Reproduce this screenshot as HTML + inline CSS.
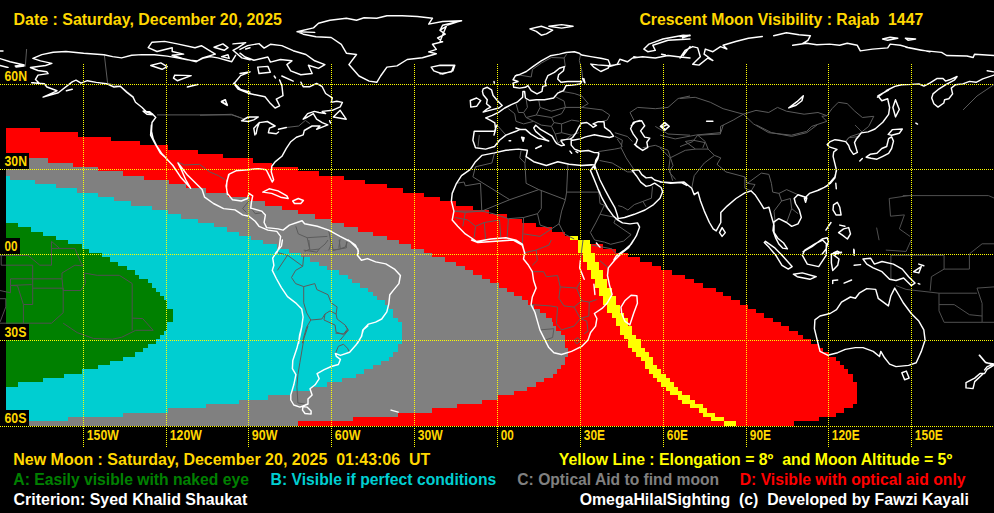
<!DOCTYPE html>
<html><head><meta charset="utf-8"><title>Crescent Moon Visibility</title>
<style>
html,body{margin:0;padding:0;background:#000;}
body{width:994px;height:513px;overflow:hidden;font-family:"Liberation Sans",sans-serif;}
svg{display:block;position:absolute;left:0;top:0;}
text{font-family:"Liberation Sans",sans-serif;font-weight:bold;white-space:pre;}
.z path{shape-rendering:crispEdges;}
.g line{stroke:#FFFF00;stroke-width:1;stroke-dasharray:1 1;shape-rendering:crispEdges;}
.c{fill:none;stroke:#fff;stroke-width:1.45;stroke-linejoin:round;stroke-linecap:round;}
.b{fill:none;stroke:#5c5c5c;stroke-width:1;stroke-linejoin:round;}
.d{fill:none;stroke:#505050;stroke-width:1;stroke-linejoin:round;}
.l text{font-size:14.2px;fill:#FFD700;}
.t text{font-size:16px;}
</style></head>
<body>
<svg width="994" height="513" viewBox="0 0 994 513">
<rect width="994" height="513" fill="#000"/>
<g class="z">
<path fill="#FF0000" d="M6 128H40V132H6ZM6 132H78V137H6ZM6 137H111V141H6ZM6 141H140V145H6ZM6 145H168V150H6ZM6 150H198V154H6ZM6 154H223V158H6ZM6 158H253V163H6ZM6 163H272V167H6ZM6 167H298V171H6ZM6 171H319V176H6ZM6 176H344V180H6ZM6 180H365V184H6ZM6 184H387V188H6ZM6 188H403V193H6ZM6 193H424V197H6ZM6 197H440V201H6ZM6 201H456V206H6ZM6 206H473V210H6ZM6 210H489V214H6ZM6 214H507V219H6ZM6 219H522V223H6ZM6 223H536V227H6ZM6 227H552V232H6ZM6 232H565V236H6ZM6 236H578V240H6ZM6 240H590V244H6ZM6 244H603V249H6ZM6 249H616V253H6ZM6 253H628V257H6ZM6 257H640V262H6ZM6 262H652V266H6ZM6 266H661V270H6ZM6 270H672V275H6ZM6 275H685V279H6ZM6 279H694V283H6ZM6 283H703V288H6ZM6 288H716V292H6ZM6 292H723V296H6ZM6 296H731V300H6ZM6 300H740V305H6ZM6 305H748V309H6ZM6 309H756V313H6ZM6 313H764V318H6ZM6 318H773V322H6ZM6 322H781V326H6ZM6 326H789V331H6ZM6 331H798V335H6ZM6 335H803V339H6ZM6 339H811V344H6ZM6 344H819V348H6ZM6 348H823V352H6ZM6 352H829V357H6ZM6 357H836V361H6ZM6 361H840V365H6ZM6 365H844V369H6ZM6 369H848V374H6ZM6 374H853V378H6ZM6 378H853V382H6ZM6 382H857V387H6ZM6 387H857V391H6ZM6 391H857V395H6ZM6 395H857V400H6ZM6 400H857V404H6ZM6 404H853V408H6ZM6 408H844V413H6ZM6 413H836V417H6ZM6 417H819V421H6ZM6 421H794V426H6Z"/>
<path fill="#808080" d="M6 158H48V163H6ZM6 163H73V167H6ZM6 167H98V171H6ZM6 171H123V176H6ZM6 176H144V180H6ZM6 180H169V184H6ZM6 184H186V188H6ZM6 188H206V193H6ZM6 193H228V197H6ZM6 197H250V201H6ZM6 201H265V206H6ZM6 206H282V210H6ZM6 210H298V214H6ZM6 214H315V219H6ZM6 219H331V223H6ZM6 223H344V227H6ZM6 227H358V232H6ZM6 232H373V236H6ZM6 236H387V240H6ZM6 240H399V244H6ZM6 244H411V249H6ZM6 249H424V253H6ZM6 253H432V257H6ZM6 257H445V262H6ZM6 262H456V266H6ZM6 266H465V270H6ZM6 270H473V275H6ZM6 275H482V279H6ZM6 279H490V283H6ZM6 283H499V288H6ZM6 288H507V292H6ZM6 292H514V296H6ZM6 296H522V300H6ZM6 300H528V305H6ZM6 305H534V309H6ZM6 309H540V313H6ZM6 313H546V318H6ZM6 318H552V322H6ZM6 322H553V326H6ZM6 326H556V331H6ZM6 331H561V335H6ZM6 335H565V339H6ZM6 339H565V344H6ZM6 344H565V348H6ZM6 348H568V352H6ZM6 352H568V357H6ZM6 357H565V361H6ZM6 361H565V365H6ZM6 365H561V369H6ZM6 369H557V374H6ZM6 374H553V378H6ZM6 378H544V382H6ZM6 382H536V387H6ZM6 387H527V391H6ZM6 391H514V395H6ZM6 395H498V400H6ZM6 400H482V404H6ZM6 404H457V408H6ZM6 408H432V413H6ZM6 413H398V417H6ZM6 417H353V421H6ZM6 421H298V426H6Z"/>
<path fill="#00CED1" d="M6 176H10V180H6ZM6 180H35V184H6ZM6 184H56V188H6ZM6 188H77V193H6ZM6 193H98V197H6ZM6 197H114V201H6ZM6 201H131V206H6ZM6 206H152V210H6ZM6 210H168V214H6ZM6 214H181V219H6ZM6 219H198V223H6ZM6 223H214V227H6ZM6 227H227V232H6ZM6 232H239V236H6ZM6 236H251V240H6ZM6 240H263V244H6ZM6 244H277V249H6ZM6 249H289V253H6ZM6 253H301V257H6ZM6 257H310V262H6ZM6 262H319V266H6ZM6 266H327V270H6ZM6 270H339V275H6ZM6 275H348V279H6ZM6 279H352V283H6ZM6 283H360V288H6ZM6 288H368V292H6ZM6 292H373V296H6ZM6 296H377V300H6ZM6 300H385V305H6ZM6 305H389V309H6ZM6 309H393V313H6ZM6 313H393V318H6ZM6 318H398V322H6ZM6 322H402V326H6ZM6 326H402V331H6ZM6 331H402V335H6ZM6 335H402V339H6ZM6 339H402V344H6ZM6 344H398V348H6ZM6 348H398V352H6ZM6 352H393V357H6ZM6 357H389V361H6ZM6 361H381V365H6ZM6 365H373V369H6ZM6 369H364V374H6ZM6 374H356V378H6ZM6 378H342V382H6ZM6 382H327V387H6ZM6 387H311V391H6ZM6 391H291V395H6ZM6 395H268V400H6ZM6 400H239V404H6ZM6 404H206V408H6ZM6 408H168V413H6ZM6 413H123V417H6ZM6 417H68V421H6Z"/>
<path fill="#008000" d="M6 223H18V227H6ZM6 227H31V232H6ZM6 232H43V236H6ZM6 236H56V240H6ZM6 240H68V244H6ZM6 244H82V249H6ZM6 249H89V253H6ZM6 253H102V257H6ZM6 257H110V262H6ZM6 262H118V266H6ZM6 266H127V270H6ZM6 270H135V275H6ZM6 275H139V279H6ZM6 279H148V283H6ZM6 283H152V288H6ZM6 288H156V292H6ZM6 292H160V296H6ZM6 296H164V300H6ZM6 300H167V305H6ZM6 305H167V309H6ZM6 309H173V313H6ZM6 313H173V318H6ZM6 318H173V322H6ZM6 322H167V326H6ZM6 326H167V331H6ZM6 331H164V335H6ZM6 335H160V339H6ZM6 339H156V344H6ZM6 344H148V348H6ZM6 348H143V352H6ZM6 352H135V357H6ZM6 357H123V361H6ZM6 361H110V365H6ZM6 365H98V369H6ZM6 369H82V374H6ZM6 374H64V378H6ZM6 378H43V382H6ZM6 382H18V387H6Z"/>
<path fill="#FFFF00" d="M570 236H578V240H570ZM578 240H590V244H578ZM578 244H591V249H578ZM578 249H591V253H578ZM583 253H595V257H583ZM583 257H595V262H583ZM587 262H599V266H587ZM587 266H599V270H587ZM591 270H603V275H591ZM591 275H603V279H591ZM595 279H607V283H595ZM595 283H607V288H595ZM599 288H612V292H599ZM599 292H612V296H599ZM603 296H616V300H603ZM603 300H616V305H603ZM607 305H620V309H607ZM607 309H620V313H607ZM612 313H624V318H612ZM616 318H628V322H616ZM616 322H628V326H616ZM620 326H632V331H620ZM620 331H632V335H620ZM624 335H636V339H624ZM628 339H641V344H628ZM628 344H641V348H628ZM632 348H645V352H632ZM636 352H649V357H636ZM641 357H653V361H641ZM645 361H653V365H645ZM645 365H657V369H645ZM649 369H661V374H649ZM653 374H666V378H653ZM657 378H670V382H657ZM661 382H674V387H661ZM666 387H678V391H666ZM670 391H682V395H670ZM678 395H690V400H678ZM682 400H695V404H682ZM690 404H703V408H690ZM699 408H707V413H699ZM703 413H715V417H703ZM711 417H724V421H711ZM724 421H736V426H724Z"/>
</g>
<path class="d" d="M910 195.4 889.2 198.5 890.5 216.2 904.4 214.9 899.4 228.9 910 236.4M876.6 227.6 879.1 240.2M855 125 862.6 132.6M890.9 279.3 890.9 255.2 944.1 255.2 944.1 269.1 931.4 276.7 930.2 290.7M944.1 269.1 969.4 269.1 969.4 253.9 982.1 243.8 994 243.8M896 285.6 906.1 289.4 939 293.2 939 310.9 944.1 322.3 982.1 322.3 982.1 303.3 977 288.1 994 286.9M939 304.6 954.2 304.6 969.4 314.7 982.1 316M939 293.2 977 293.2M982.1 322.3 994 322.3M885.8 250.1 906.1 251.4 911.2 240M0 255.4 28.1 255.4 39.8 265.2 51.5 265.2 51.5 241.4 59.6 248.4 74.9 248.4 80.7 262.4 83 265.9M51.5 248.4 59.6 248.4M1.2 255.4 1.2 265.2 32.7 265.2 32.7 304.5 23.4 304.5 17.5 285.8 10.5 285.4 10.5 278.8 62 278.8 62 273 74.9 265.2 83 265.9M10.5 285.4 31.6 284.6M32.7 288.2 63.2 288.2 63.2 312.7 51.5 323.2 0 323.2M23.4 304.5 23.4 323.2M0 298.7 5.8 298.7 5.8 306.9 0 322.1M0 290.5 10.5 292.8 10.5 285.4M62 278.8 63.2 290.5 80.7 290.5 85.4 283.5 84.2 273 97.1 275.3 119.3 275.3 132.2 283.5 132.2 330.3M132.2 318.1 142.7 318.6 153.2 330.3 135.7 330.3 121.6 337.3 112.3 339.2 93.6 338.5 77.2 332.6 63.2 323.2M902.8 195.6 988.5 195.6 994 198"/>
<path class="b" d="M26.6 49 25.3 66.7M104.4 55.3 107.6 83.2 121.6 87 134.2 97.1M157 114.9 231.8 114.9 243.2 118.7 250 117.4M176.7 161.7 184.3 165 199.5 164.3 209.7 171.9 218.5 175.7 224.9 179.5M248.9 201 242.6 208.6 246.4 212.4M251.4 208.6 255.2 213.7 264.1 212.4M295.8 226.3 298.3 233.9 307.2 237.7 309.7 249.1 304.6 251.6M328.7 230.1 331.2 244 328.7 250.4M340.1 239 338.8 247.8M346.4 241.5 346.4 247.8 332.5 250.4M307.2 237.7 327.4 236.4M276.3 252.2 287.5 255.2 277.4 270.4M287.5 255.2 302.7 266.3 303.7 256.2M302.7 266.3 295.6 270.4 291.5 277.5 295.6 283.6 303.7 286.6 314.8 283.6 316.9 289.6 328 294.7 331.1 302.8 337.1 306.9 336.1 314 330 310.9 325 314 321.9 319 310.8 320 306.7 312.9 303.7 302.8 303.7 286.6M325 314 324 320 335.1 325.1 336.1 332.2 343.2 334.2 348.3 330.2 345.2 325.1 337.1 319 336.1 314M310.8 320 306.7 327.1 303.7 337.3 302.3 343.3M348.3 330.2 339.2 341.3M308.8 240 309.8 250.1 318.9 249.1 325 244.1 328 240M331.1 240 333.1 250.1 339.2 249.1 345.2 247.1 347.3 242M339.2 240 340.2 248.1M303.7 250.1 316.9 252.2 319.9 248.1M308 326 304 338.2 299.9 362.5 297.9 374.6 296.9 386.8 297.9 403 305 404M335.4 353.4 338.4 346.3 343.5 344.2 347.5 348.3 349.6 352.3M335.4 333.1 343.5 334.1 347.5 329 345.5 326M494.5 152.9 491.9 163 475.5 166.8 472.9 176.9 509.7 199.7 538.8 189.6 526.1 183.3 524.9 163 519.8 157.9 521.1 150.3M524.9 163 527.4 150.3M456.5 183.3 464.1 182 465.3 185.8 480.5 183.3 481.8 211.1 455.2 211.1M481.8 211.1 509.7 199.7M567.9 164.3 566.6 192.1 600.8 192.1M538.8 189.6 565.4 199.7 566.6 192.1M541.3 190.9 541.3 208.6 537.5 213.7 540.1 225.1 551.4 228.9 559 223.8 561.6 211.1 565.4 199.7M559 223.8 564.1 233.9 574.2 239M599.6 160.5 612.2 163 627.4 171.9 635 171.9M621.1 147.8 626.2 157.9 633.8 169.3M598.3 151.6 614.8 149.1 621.1 147.8 622.4 140.2 614.8 136.4M642.6 147.8 655.3 145.3 668 150.3 673 165.5 669.2 171.9 675.6 179.5M479.3 135.1 478 146.5M497 125 505.9 135.1M453.9 211.1 465.3 212.4 481.8 211.1 493.2 213.7 508.4 218.7 523.6 217.5 537.5 213.7M465.3 212.4 462.8 226.3M475.5 226.3 474.2 237.7M484.3 222.5 485.6 239M499.5 220 500.8 237.7M508.4 218.7 507.1 237.7M523.6 217.5 522.3 244M523.6 233.9 540.1 236.4 551.4 228.9M455.2 217.5 467.9 220 475.5 226.3 484.3 222.5 499.5 220M516 74.5 531.2 77 532.5 69.4 541.3 63.1 551.4 57.5 564.1 58 566.6 54.2M564.1 58 565.4 66.9M580.6 54.2 579.3 60.5 581.8 70.7 583.1 80.8M559 90.9 574.2 93.5 581.8 96 588.2 103.6 581.8 107.4 565.4 107.4 564.1 101.1 554 96M538.8 100.5 540.1 107.4 551.4 111.2 565.4 107.4M526.1 98.5 527.4 107.4 523.6 112.5 526.1 117.5 536.3 115 540.1 107.4M516 103.6 518.5 112.5 523.6 112.5M508.4 108.7 514.7 113.7 516 121.3 523.6 123.9 533.7 121.3 526.1 117.5M536.3 115 551.4 117.5 561.6 113.7 565.4 107.4M581.8 107.4 602.1 109.9 609.7 115 607.2 120.1 602.1 121.3M551.4 117.5 554 122.6 561.6 123.9 571.7 120.1 579.3 121.3M533.7 121.3 541.3 125.1 551.4 126.4 554 122.6M551.4 126.4 555.2 134 561.6 132.7 561.6 123.9M561.6 132.7 571.7 135.2 578.8 132.7M555.2 134 557.8 142.8 566.6 139 571.7 135.2M630 112.5 637.6 107.4 655.3 108.7 668 107.4 678.1 98.5 690 96M630 112.5 633.8 120.1M655.3 126.4 668 134 690 135.2M614.8 132.7 627.4 136.5 632.5 141.6M617.3 139 622.4 146.6M680 98.5 695.2 97.3 710.4 102.3 723.1 108.7 743.3 114.2 756 110.4 768.7 112.5 777.5 107.4 786.4 111.2 804.1 114.2 818 112.5 826.9 115.7 832 108.7 838.3 102.3 847.2 103.6 854.8 111.2 862.4 117.5 873.8 116.3 868.7 126.4 862.4 131.4 857.3 139M743.3 114.2 753.5 123.9 768.7 132.7 791.4 135.2 806.6 131.4 811.7 126.4 826.9 121.3 821.8 116.3 826.9 115.7M743.3 114.2 733.2 120.1 720.5 126.4 720.5 134 697.7 135.2 692.7 141.6 680 146.6M697.7 135.2 705.3 141.6 702.8 147.9M963.1 109.9 977 96 994 84.6M691.7 188.3 694.2 175.7 704.3 163 714.5 155.4 720.8 157.9 717 164.3 725.9 171.9 744.9 176.9 747.4 183.3 761.3 173.1 768.9 174.4 771.4 183.3 772.7 192.1 779 193.4 781.6 201 774 211.1 775.2 222.5M660 135.1 675.2 138.9 695.5 135.1 720.8 132.6 723.3 125M685.3 141.5 695.5 149.1 708.1 149.1 705.6 142.7 692.9 140.2ZM660 147.8 670.1 157.9 668.9 168.1 672.7 180.7M670.1 157.9 685.3 150.3 695.5 149.1M744.9 176.9 744.9 188.3 751.2 190.9 755 184.5 747.4 183.3M779 193.4 786.6 189.6 798 194.7M781.6 201 790.4 198.5 791.7 208.6 786.6 222.5M791.7 208.6 798 213.7M756.3 125 771.4 132.6 791.7 136.4 806.9 132.6 817 125M844.9 142.2 848.7 137.7 860.1 136.4M708.1 149.1 714.5 155.4M524.7 252.7 536.1 250.1 548.8 245.1 551.3 240M536.1 250.1 537.4 260.3 532.3 265.3M532.3 271.7 543.7 271.7 546.3 276.7 557.6 275.5 560.2 286.9 576.6 288.1 580.4 281.8M560.2 286.9 558.9 298.3 564 305.9 574.1 307.1 581.7 300.8 576.6 288.1M531.1 304.6 550.1 305.9 557.6 307.1 556.4 323.6 561.4 329.9 574.1 326.1 580.4 318.5 574.1 307.1M580.4 318.5 586.8 321.1 588 331.2 584.2 333.7M581.7 300.8 589.3 302.1 588.8 316 580.4 318.5M574.1 340.1 577.9 337.5 580.4 340.8 576.6 343.9ZM539.9 329.9 553.9 328.7 552.6 337.5 545 340.1M583 240 580.4 260.3M599.4 260.3 608.3 267.9M591.8 245.1 612.1 248.9 617.2 255.2M589.3 302.1 596.9 299.5M200 115.2 231.4 114.3 241.5 118.1M286.3 127.5 298.7 126 305.4 120.4 309.9 123.7M618.2 205.7 622.5 206.8 627.9 210 634.3 204.6 642.9 201.4 646.1 206.8M642.9 201.4 651.4 198.2 652.5 186.4M598.9 192.2 600 203.6 604.3 205.3 600 214.3 616.1 217.5 613.9 222.9 627.9 232.5 631.1 234.6 623.6 241.1 610.7 244.3 604.3 242.1 594.6 240 590.4 232.5 595.7 222.9 600 214.3M604.3 205.3 612.9 215.4M616.1 217.5 618.2 219.6M845.8 141.6 849.7 136.8 861.3 132.9"/>
<path class="c" d="M0 58.6 10.1 61.7 24.1 65 15.2 66M0 51 3 51M197.6 60.9 187.4 59.9 177.3 57.9 167.2 56.1 154.5 54.8 141.8 54.6 131.7 55.3 121.6 57.9 112.7 56.6 103.9 54.8 83.6 53.3 65.9 51.5 53.2 52.3 41.8 54.6 32.9 58.4 40.5 60.9 51.9 63.4 45.6 65.5 30.4 67.5 38 70.5 46.9 71.8 48.1 73.6 38 75.1 35.5 79.4 39.3 83.2 31.7 82.7 44.3 83.7 46.9 87 57 90.8 43.1 97.1 58.3 92.8 72.2 81.9 76 80.2 81.1 83.2 87.4 80.7 96.3 82.4 106.4 83.7 114 87 120.3 86.2 126.6 92.1 133 97.1 135.5 102.2 141.8 107.3 146.9 112.3 152 113.6 155.8 117.4 152 122.5 151.5 131.3 153.2 138.9 157 146.5 162.1 154.1 167.2 159.2M143.1 111.1 149.4 111.6 153.2 114.9 146.9 114.3ZM66.4 90.8 72.2 89.3M148.2 47.7 152 42.2 164.6 41.4 177.3 43.9 195 47.7 201.4 45.7 215.3 54.1 202.6 57.9 196.3 61.7 182.4 58.4 172.2 55.3 183.6 54.1 172.2 51.5 172.2 47.7 157 51.5ZM214 47.2 222.9 43.9 228 47.7 224.2 50.3ZM221.6 56.6 228 54.8 229.2 58.4ZM233 43.9 245.7 42.7 238.1 47.7 233 50.3 241.9 57.9 250 59.9M197.6 60.9 202.6 58.4 210.2 56.6 217.8 57.9 231.8 61.7 235.6 55.3M150.7 65.5 160.8 62.9 167.2 66.7 162.1 69.3ZM174.8 75.1 191.2 75.6 177.3 80.7 173.5 78.1ZM187.4 87 197.6 84.5M221.6 102.2 225.4 99.7 227.2 105.5ZM250 71.8 240.6 75.6 234.3 83.2 240.6 89.5 250 92.1M245.7 49 250 47.7M297 31.7 313.5 27.9 318.5 23.3 329.9 20.3 346.4 18.2 356.5 20.3 364.1 17.7 376.8 18.2 386.9 15.7 402.1 15.7 417.3 16.5 432.5 18.2 428.7 24.1 442.6 21.5 461.6 20.8 442.6 25.3 440.1 30.4 445.2 34.2 437.6 38 442.6 41.8 432.5 44.3 436.3 49.4 428.7 51.9 436.3 53.7 422.4 57.8 407.2 59.5 397 65.9 386.9 67.1 380.6 76 376.8 82.3 369.2 81.1 359 76 348.9 64.6 356.5 54.5 346.4 53.2 341.3 44.3 331.2 37.5 316 36.7 303.3 34.2ZM297 31.7 314.7 32.4M431.2 67.1 440.1 65.3 454.8 65.3 452.8 70.9 442.6 74 433.8 70.9ZM240 49.4 247.6 45.6 259 43.6 264.1 48.1 270.4 44.3 281.8 45.6 293.2 50.7 305.9 54.5 314.7 60.8 324.9 64.6 318.5 68.4 308.4 65.3 312.2 73.5 300.8 74.7 290.7 70.9 286.9 64.6 291.9 60.8 280.5 59.5 270.4 62.1 267.9 57 253.9 60.3 245.1 57 240 53.2M257.7 67.1 267.9 66.4 270.4 72.2 259 73.5ZM240 73.5 247.6 72.2M274.2 76 275.5 78M281.8 76 293.2 81.1M151.4 125 150.6 135.1 155.2 144 160.3 152.9 165.3 157.4 172.9 165.5 180.5 176.9 190.7 188.3 185.6 179.5 181.8 170.6 178 163 186.9 174.4 194.5 182 202.1 189.6 204.6 197.2 213.5 203.5 223.6 208.6 235 209.9 242.6 214.9 248.9 216.2 255.2 221.3 259 226.3 267.9 230.1 276.8 231.4 280.6 236.4 279.3 246.6 276.8 252.9M228.7 174.4 226.1 185.8 227.4 193.4 232.5 199.7 241.3 201 247.6 198.5 248.9 193.4 252.7 195.9 251.4 202.3 250.7 208.1 261.6 211.1 265.4 214.9 264.1 222.5 266.6 227.6 278 228.9 283.1 230.1 289.4 225.1 297 222.5 302.1 220.7 304.6 223.8 317.3 226.3 328.7 230.1 340.1 236.4 350.2 241.5 357.8 249.1 358.3 254.2M262.8 192.1 269.2 188.8 278 190.9 286.9 195.9 288.2 198.5 280.6 197.2 271.7 193.4ZM292.7 201 298.3 198.5 303.4 200.5 300.8 203.5 294.5 203.5ZM282.4 240 281.4 246.1 276.3 252.2 272.7 258.2 273.9 265.3 272.3 270.4 276.3 278.5 281.4 287.6 287.5 296.7 295.6 302.8 301.7 308.9 303.1 317 301.7 327.1 299.6 335.2 298.6 343.3M348.3 240 355.4 245.1 358.4 251.1 357.4 255.2 361.4 260.3 367.5 258.6 375.6 261.9 385.8 263.9 394.9 269.4 400.4 275.5 398.9 283.6 393.9 289.6 389.8 294.7 388.8 303.8 386.8 311.9 381.7 319 375.6 322.1 368.5 324.1 363.5 329.2 361.4 336.3 357.4 343.3M301.9 326 299.9 336.1 296.9 348.3 292.8 360.4 292.4 368.6 295.9 374.6 293.8 384.8 290.8 394.9 290.8 400 293.8 405 299.9 407.1 302.9 406 308 404 308 398.9 312.1 394.9 310 388.8 315.1 384.8 319.2 378.7 317.1 373.6 324.2 369.6 331.3 366.5 338.4 364.5 340.4 359.4 336.4 356.4 335.4 353.4 340.4 355.4 349.6 352.3 356.6 344.2 361.7 336.1 362.7 330.1 367.8 326M302.9 406.6 307 407.1 311.1 411.1 311.1 414.1 305 413.5 302.5 410.1ZM391.1 410.1 398.2 412.1M524.9 254.2 522.3 244 516 240.2 505.9 237.7 490.7 239 476.7 241.5 465.3 233.9 457.7 226.3 452.2 220 453.9 211.1 451.4 201 452.2 193.4 456.5 183.3 461.5 175.7 470.4 169.3 475.5 161.7 481.8 155.4 494.5 152.9 505.9 150.3 518.5 149.1 527.4 150.3 526.1 156.7 533.7 161.7 546.4 165.5 557.8 161.7 569.2 164.3 581.8 165.5 592 165M497 125 494.5 131.3 474.2 131.3 472.9 140.2 475.5 147.8 485.6 149.1 494.5 146.5 499.5 140.2 505.9 135.1 516 131.3 520 129.3M521.6 137.2 524.1 137.7 523.1 141.2ZM537 147.8 541.3 146M509.1 140.7 510.7 140.7M608.4 66.9 617.3 64.3 619.8 59.3 627.4 61.8 632.5 58 642.6 56.7 655.3 58 668 55.5 678.1 56.7 690 58M440 65.6 453.9 65.6 451.4 71.9 440 73.7M529.9 28.9 541.3 26.3 552.7 30.1 546.4 33.9 541.3 35.2 536.3 31.4ZM548.9 26.3 561.6 24.6 573 26.3 561.6 28.1ZM643.9 49.1 649 44.1 662.9 39 683.2 35.2 690 35.7M690 39 668 40.3 652.8 45.3 655.3 50.4 647.7 51.7 643.9 49.1M440 30.1 446.3 26.3 442.5 35.2 440 41.5M447.6 25.1 459 21.3M660.4 126.4 664.9 122.6 669.2 126.4 664.9 130.2ZM633.8 56.7 637.6 57.5M661.6 54.2 665.4 55M583.9 78.8 584.9 82.8M683.2 55.5 690 46.6M680 58 685.1 50.4 692.7 46.6 697.7 47.9 700.3 56.7 695.2 61.8 692.7 64.3 699 65.1 707.9 58 712.9 60.5 704.1 54.2 705.3 49.1 712.9 51.7 720.5 46.6 726.9 49.1 723.1 45.3 735.7 41.5 748.4 38.2 762.3 36.5M773.7 35.7 786.4 32.7 799 34.7 810.4 35.7 807.9 40.3 801.6 44.1 792.7 45.3 806.6 43.3 816.8 44.8 829.4 44.1 839.6 45.3 847.2 43.3 857.3 45.3 860.3 50.9 872.5 49.1 887.7 47.9 890.2 44.1 900.4 45.3 908 47.4 920.6 49.9 930 51.7M882.6 39 890.2 37.2 897.8 38.2 887.7 40.3ZM905.4 38.2 915.6 39 908 40.3ZM680 36.5 690.1 35.2 682.5 37.7M706.6 121.3 712.9 121.3M906.1 47.4 921.3 50.4 941.6 52.4 946.6 55.5 966.9 56 973.2 57.5 974.5 54.2 994 55.5M987.2 70.7 994 71.9M660 182 672.7 182.8 684.1 182 691.7 188.3 694.2 194.7 698 192.1 700.5 201 704.3 211.1 709.4 222.5 713.2 228.9 716.2 230.9 720.8 222.5 720.8 212.4 727.1 206.1 736 198.5 744.9 192.9 751.2 190.9 755 194.7 760.1 202.3 763.9 208.6 768.9 207.3 771.4 216.2 774 225.1 774 232.4 777.8 238.2 783.6 243 787.4 248.9 782.6 248.1 778.8 244 775.8 238.2 773 230.4 774 221.8 778.8 218.7 786.6 222.5 791.7 226.3 798 223.8 801.3 217.5 799.3 209.9 795.5 203.5 794.2 198.5 798 194.7 805.6 197.2 809.4 193.4 818.3 190.3 827.2 185.8 834.8 176.9 836.5 170.6M719.5 232.6 722.1 227.6 725.3 232.6 722.1 236.4ZM835.8 183.3 836.3 188.8M833.5 204.8 837.3 202.3 839.8 207.3 841.1 214.9 836 214.9 833 209.9ZM838.6 232.6 843.6 228.9 848.7 227.6 850.5 233.9 847.4 239 842.4 235.2ZM839.8 225.1 844.9 226.3M825.9 230.1 831 222.5M804.4 198.5 806.9 197.9 805.6 202.3ZM803.1 251.6 812 246.6 822.1 239 827.2 237.7 828.4 241.5 825.9 249.1 822.1 254.2M833.5 252.9 837.3 251.1 841.1 252.9M853.8 249.1 853.8 252.9M662 127 666.3 125M662 127 665.6 129.6 668.9 126.3M471.5 240 477.9 242.5 495.6 241.3 513.3 240 522.2 245.1 524.7 252.7 523.5 259 528.5 265.3 532.3 271.7 533.6 280.5 536.1 288.1 532.3 297 531.1 304.6 534.9 312.2 537.4 321.1 539.9 329.9 545 340.1 548.8 347.6 553.9 352.7 561.4 354.5 571.6 351.4 581.7 346.4 588 340.1 590.6 332.5 595.6 326.1 596.9 318.5 594.4 313.5 602 308.4 607 303.3 612.1 294.5 609.6 285.6 607.5 275.5 608.3 267.9 614.6 260.3 622.2 252.7 628.6 247.6 633.6 240M621 307.1 624.8 300.8 631.1 295.2 636.9 295.7 637.4 303.3 633.6 313.5 629.8 324.9 624.8 321.1 621.7 313.5ZM580.4 260.3 579.7 267.9 582.2 274.2 584.2 279.3M593.9 284.3 594.9 294.5M596.4 243 599.9 247.1M814.9 319.8 820 316 830.1 313.5 836.5 309.7 841.5 302.1 850.4 297 855.4 298.3 859.2 293.2 866.8 288.6 875.7 289.4 878.2 298.3 888.4 305.9 890.9 295.7 894.7 288.1 898.5 294.5 903.6 303.3 911.2 313.5 918.8 321.1 923.8 329.9 925.1 340.1 921.3 351.4 916.2 362.8 908.6 365.4 896 366.6 889.6 364.1 884.6 357.8 880.8 351.4 879.5 356.5 873.2 351.4 863 347.6 855.4 347.6 845.3 349.4 837.7 352.7 827.6 355.2 820 351.4 817.5 341.3 814.4 328.7ZM765.5 241.3 774.4 247.6 782 255.2 792.1 266.6 788.3 269.1 782 265.3 775.7 255.2 769.3 247.6 764.3 242.5ZM804.8 250.1 814.9 243.8 822.5 240 826.3 243.8 826.3 255.2 818.7 266.6 807.3 264.1 802.3 255.2ZM793.4 274.2 802.3 272.9 816.2 276.7 809.9 279.3 797.2 276.7ZM831.4 253.9 841.5 252.2 833.9 255.2 839 259 837.7 265.3 832.7 270.4 831.4 262.8ZM832.7 283.6 832.7 280.5 837.7 280M844.1 283.1 851.6 280M854.2 265.3 860.5 264.6M854.2 250.1 854.2 255.2M863 259 870.6 258.2 874.4 264.1 882 261.5 893.4 264.1 902.3 269.1 908.6 276.7 915 283.1 911.2 285.6 903.6 278 896 280.5 889.6 279.3 882 271.7 873.2 267.9 866.8 264.1ZM913.7 271.7 921.3 266.6 918.8 272.9ZM918.8 264.1 923.8 265.8M918.3 283.6 919.8 284.1M979.6 355.2 985.9 362.8 994 364.1 987.2 366.6 984.6 369.9M901.8 372.8 906.3 371.1 909.1 378.1 904.6 379.8ZM979.3 355.3 985.3 362.3 994 365.1 987 369.3 984.6 373.5M983.5 373.5 974.7 381.6 973 388.6 966 387.9 966 382.6 974.7 378.1 980 373.5ZM233.6 83.4 238.1 89 249.3 93.5 265 96.8 269.5 102.4 275.1 108 279.6 105.8 276.3 99.1 283 95.7 281.9 85.6 279.6 80M300.9 82.2 303.2 86.7 309.9 86.7 316.6 83.4 322.2 86.7 325.6 93.5 332.3 97.9 331.2 102.4 336.8 101.3 342.4 102.4 340.2 106.9 332.3 110.3 322.2 111.4 325.6 113.6 318.9 112.5 314.4 111.4 307.6 113.6 303.2 119.2 307.6 117 313.3 113.6 316.6 119.2 322.2 122.6 327.8 124.9 322.2 127.1 316.6 129.3 320 126 312.1 126 304.3 130.5 303.2 134.9 296.4 137.2 290.8 141.7 286.3 148.4 281.9 156.3 275.1 161.9 271.8 166.3 271.3 171.9 273.6 179.8 272.2 182 269.5 176.4 266.2 169.7 258.3 168.6 248.2 169.7 235.9 170.8 229.2 174.2 226.9 180.9 226.5 187.6 227.4 194.4M333.4 117 340.2 110.3 346.2 119.2ZM241.5 120.8 248.2 117 258.3 117 253.8 119.9 248.2 121.5ZM254.9 134.9 253.8 128.2 259.4 122.6 257.2 128.2 256.1 133.8M259.4 122.6 267.3 121.5 275.1 126 269.5 128.2 268.4 132.7 276.3 133.8 278.5 132M278.5 129.3 286.3 127.5M221.3 101.3 225.1 99.7 227.4 105.1ZM329.6 120.8 330.5 123.1M515.9 128 520 129.4 525.5 129.4 530.9 134.1 537.7 138.2 543.9 139.6 548.7 141 545.9 139.6 540.5 135.5 535.7 131.4 533.7 128 535.7 125.3 540.5 129.4 546.6 132.8 552.1 136.2 554.8 141 556.9 143.7 561 145.7 564.4 145.1 562.3 143 561 140.3 565.1 139.6 570.5 138.9 572.6 137.5 576 132.8 578.7 127.3 581.4 123.2 586.9 122.5 591 125.3 593 127.3 596.5 125.3 593 123.9 597.8 121.8 604 121.8 604.6 127.3 610.1 131.4 613.5 136.2 609.4 137.5 601.9 136.2 594.4 134.8 585.5 136.9 580.1 138.9 572.6 140.3 571.2 139.6M571.2 140.3 571.2 145.1 574.6 149.1 580.1 151.2 588.3 150.5 594.4 152.6 598.5 152.6 598.5 156 595.8 160.1 595.1 164.2 594.4 168.3M535.7 148.5 541.2 145.7M640 120.5 633.3 122.5 630.6 128.7 633.3 134.1 637.4 139.6 635.4 145.1 640 148.5M641.6 120.7 644.7 125.8 640.6 130.9 644.7 137.1 649.8 138.1 646.8 142.2 647.8 147.3 642.7 150.4 636.5 146.3 634.5 144.2M631.4 125.8 635.5 121.7 641.6 120.7M580.7 165.4 591.4 164.6 594.6 165 590.4 170.4 593.6 177.9 597.9 188.6 602.1 198.2 607.5 207.9 612.9 215.4 617.1 219.6 622.5 222.9 630 223.9 637.5 222.9 639.6 227.1 636.4 235.7 631.1 244.3 623.6 250.7 616.1 256.1 613.9 259.9M594.6 165 596.8 171.4 600 180 605.4 190.7 610.7 200.4 615 207.9 617.1 214.3 618.2 218.6 624.6 217.5 634.3 214.3 645 210 653.6 204.6 660 198.2 662.6 191.8 661.1 187.5 654.6 183.2 650.4 185.4 646.1 186.4 640.7 182.1 636.4 175.7 632.1 170.4 638.6 169.7 641.8 174.6 646.1 177.9 651.4 177.4 654.6 180 662.1 182.1 670.7 183.2 681.4 182.6 686.8 185.4M594.6 165 597.9 158.6 598.9 153.2M570 151.1 571.7 153.2M576 151.5 577.7 152.6M483.2 88.9 487.3 87.3 491.5 89.8 493.1 95.5 497.3 100.5 502.2 105.5 498.9 108 492.3 109.6 483.2 112.1 487.3 108.8 490.6 107.1 486.5 103.8 487.3 99.7 483.2 94.7 482.4 91.4ZM470.3 100.5 476.6 98 480.7 100.5 476.6 106.3 470.8 107.1ZM513 79.8 515.5 75.7 518.8 74.8 526.3 71.5 532.9 66.6 541.2 60.8 550.3 55.8 559.4 54.1 566 52.5 574.3 51.7 579.3 53.3 581.7 55 590.8 56.6 600.8 58.3 608.2 59.9 609.9 64.1 608.2 68.2 600.8 71.5 594.2 67.4 590.8 64.1 597.5 64.9 609.1 65.7 620 64.1M513 79.8 518 81.5 513 83.1 513.8 87.3 519.6 88.1 525.4 87.3 527.9 85.6 531.2 90.6 537 93.9 542 91.4 542.8 86.4 546.1 85.6 545.3 81.5 547.8 75.7 554.4 72.4 559.4 68.2 564.3 66.6 563.5 70.7 558.6 74.8 557.7 79 561 82.3 567.7 81.5 574.3 81.5 581.7 81.5 580.1 84 572.6 85.1 566 85.6 563.5 90.6 557.7 93.1 553.6 98 544.5 99.7 536.2 99.7 529.6 100.5 525.4 98 524.6 91.4 522.9 91.4 522.6 97.2 517.1 102.2 511.3 104.7 504.7 108 498.9 112.1 492.3 115.4 485.7 117.9 490.6 120.4 494.8 122.9 495.6 129.5 494 135M582.6 78.5 584.6 82.8M494 81.5 494.3 83.1M888.6 90 877.9 95.8 881.8 100.7 887.7 98.8 889.6 107.5 888.6 114.4 882.8 122.2 875 129 868.2 131.9 861.3 132.9 856.5 138.7 854.5 142.6 857.4 152.4 853.5 154.3 850 149.4 848.7 145.5 845.8 141.6 838.9 140.3 835 139.7 830.2 141.6 827.2 144.6 829.2 146.9 837 149.4 833.7 152 833.1 156.3 835 164.1 836.4 169.9 835 177.7 830.2 183.5 824.3 187.4 818.5 190M895.5 99.7 899.3 109.5 895.5 116.9 892.9 107.5ZM888.2 134.4 892.5 129.6 902.3 129 899.3 133.3 891.6 135.2ZM866.2 157.2 870.1 154.3 876.9 153.3 881.8 148.5 886.7 146.5 888.6 138.7 891.6 136.8 893.5 141.1 891.6 148.5 888.6 153.3 882.8 156.3 876.9 159.2 871.1 158.2ZM859.8 161.1 862.3 158.6M915.9 123.1 917.5 124.1M788.8 107.9 797 101.7 803.3 95.8 801.9 100.7 796.1 105.2ZM877.5 97.2 880 95.5 886.6 90.5 894.9 86.4 901.5 84.7 911.5 84.4 918.9 83.9 923.9 86.1 929.7 83.1 937.2 78.4 943 78.4 945.5 81.1 949.6 79.8 957.1 76.5 954.6 79.8 946.3 84.4 938 89.7 933 93.9 931.7 98 933.9 103.8 938 107.1 943.8 103 944.6 99.7 948.8 98.8 952.6 93.9 951.3 88.1 955.4 84.7 962.9 83.9 969.5 81.4 976.1 82.3 982.7 78.9 994 75.1M0 65.5 8 67.5M16 67 24 66"/>
<g class="g">
<line x1="0" y1="84.5" x2="994" y2="84.5"/><line x1="0" y1="169.5" x2="994" y2="169.5"/><line x1="0" y1="254.5" x2="994" y2="254.5"/><line x1="0" y1="340.5" x2="994" y2="340.5"/><line x1="0" y1="426.5" x2="994" y2="426.5"/><line x1="83.5" y1="64" x2="83.5" y2="447"/><line x1="166.5" y1="64" x2="166.5" y2="447"/><line x1="248.5" y1="64" x2="248.5" y2="447"/><line x1="331.5" y1="64" x2="331.5" y2="447"/><line x1="414.5" y1="64" x2="414.5" y2="447"/><line x1="497.5" y1="64" x2="497.5" y2="447"/><line x1="580.5" y1="64" x2="580.5" y2="447"/><line x1="663.5" y1="64" x2="663.5" y2="447"/><line x1="746.5" y1="64" x2="746.5" y2="447"/><line x1="828.5" y1="64" x2="828.5" y2="447"/><line x1="911.5" y1="64" x2="911.5" y2="447"/>
</g>
<g class="l">
<rect x="0" y="68" width="29" height="16" fill="#000"/><text x="4.5" y="80.8" textLength="22.5" lengthAdjust="spacingAndGlyphs">60N</text><rect x="0" y="153" width="29" height="16" fill="#000"/><text x="4.5" y="165.8" textLength="22.5" lengthAdjust="spacingAndGlyphs">30N</text><rect x="0" y="238" width="20" height="16" fill="#000"/><text x="4.5" y="250.8" textLength="13" lengthAdjust="spacingAndGlyphs">00</text><rect x="0" y="324" width="29" height="16" fill="#000"/><text x="4.5" y="336.8" textLength="22" lengthAdjust="spacingAndGlyphs">30S</text><rect x="0" y="410" width="29" height="16" fill="#000"/><text x="4.5" y="422.8" textLength="22" lengthAdjust="spacingAndGlyphs">60S</text><text x="86.8" y="440" textLength="32" lengthAdjust="spacingAndGlyphs">150W</text><text x="169.8" y="440" textLength="32" lengthAdjust="spacingAndGlyphs">120W</text><text x="251.8" y="440" textLength="25.6" lengthAdjust="spacingAndGlyphs">90W</text><text x="334.8" y="440" textLength="25.6" lengthAdjust="spacingAndGlyphs">60W</text><text x="417.8" y="440" textLength="25" lengthAdjust="spacingAndGlyphs">30W</text><text x="500.8" y="440" textLength="13" lengthAdjust="spacingAndGlyphs">00</text><text x="583.8" y="440" textLength="21.2" lengthAdjust="spacingAndGlyphs">30E</text><text x="666.8" y="440" textLength="21.2" lengthAdjust="spacingAndGlyphs">60E</text><text x="749.8" y="440" textLength="21.2" lengthAdjust="spacingAndGlyphs">90E</text><text x="831.8" y="440" textLength="27.8" lengthAdjust="spacingAndGlyphs">120E</text><text x="914.8" y="440" textLength="28" lengthAdjust="spacingAndGlyphs">150E</text>
</g>
<g class="t" xml:space="preserve">
<text x="13.5" y="24.5" textLength="268.5" lengthAdjust="spacingAndGlyphs" fill="#FFD700">Date : Saturday, December 20, 2025</text><text x="639.4" y="24.5" textLength="283.8" lengthAdjust="spacingAndGlyphs" fill="#FFD700">Crescent Moon Visibility : Rajab  1447</text><text x="13.3" y="465.3" textLength="417" lengthAdjust="spacingAndGlyphs" fill="#FFD700">New Moon : Saturday, December 20, 2025  01:43:06  UT</text><text x="558.8" y="465.3" textLength="393.4" lengthAdjust="spacingAndGlyphs" fill="#FFFF00">Yellow Line : Elongation = 8º  and Moon Altitude = 5º</text><text x="13.3" y="485.2" textLength="235.7" lengthAdjust="spacingAndGlyphs" fill="#008000">A: Easily visible with naked eye</text><text x="270.6" y="485.2" textLength="225.7" lengthAdjust="spacingAndGlyphs" fill="#00CED1">B: Visible if perfect conditions</text><text x="517.3" y="485.2" textLength="201.8" lengthAdjust="spacingAndGlyphs" fill="#808080">C: Optical Aid to find moon</text><text x="739.7" y="485.2" textLength="225.8" lengthAdjust="spacingAndGlyphs" fill="#FF0000">D: Visible with optical aid only</text><text x="13.6" y="505.1" textLength="233.7" lengthAdjust="spacingAndGlyphs" fill="#FFFFFF">Criterion: Syed Khalid Shaukat</text><text x="579.7" y="505.1" textLength="389.1" lengthAdjust="spacingAndGlyphs" fill="#FFFFFF">OmegaHilalSighting  (c)  Developed by Fawzi Kayali</text>
</g>
</svg>
</body></html>
